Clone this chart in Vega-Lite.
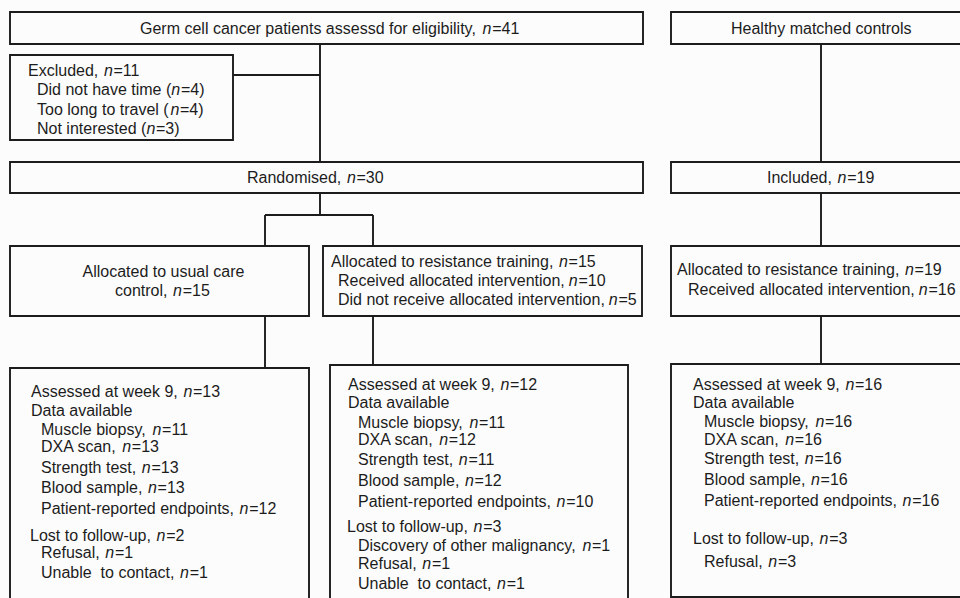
{
  "$schema": "https://vega.github.io/schema/vega-lite/v6.json",
  "width": 960,
  "height": 598,
  "autosize": "none",
  "padding": 0,
  "background": "#fcfcfc",
  "config": {"view": {"stroke": null}},
  "datasets": {
    "boxes": [
      {"x0": 10, "x1": 643, "y0": 12, "y1": 44},
      {"x0": 671, "x1": 963, "y0": 12, "y1": 44},
      {"x0": 10, "x1": 233, "y0": 55, "y1": 140},
      {"x0": 10, "x1": 643, "y0": 162, "y1": 193},
      {"x0": 671, "x1": 963, "y0": 162, "y1": 193},
      {"x0": 10, "x1": 309, "y0": 246, "y1": 316},
      {"x0": 323, "x1": 642, "y0": 246, "y1": 316},
      {"x0": 671, "x1": 963, "y0": 246, "y1": 316},
      {"x0": 10, "x1": 309, "y0": 368, "y1": 603},
      {"x0": 330, "x1": 628, "y0": 365, "y1": 603},
      {"x0": 671, "x1": 963, "y0": 364, "y1": 597}
    ],
    "links": [
      {"x0": 320, "x1": 320, "y0": 44, "y1": 162},
      {"x0": 233, "x1": 320, "y0": 75, "y1": 75},
      {"x0": 821, "x1": 821, "y0": 44, "y1": 162},
      {"x0": 821, "x1": 821, "y0": 193, "y1": 246},
      {"x0": 320, "x1": 320, "y0": 193, "y1": 215},
      {"x0": 265, "x1": 373, "y0": 215, "y1": 215},
      {"x0": 265, "x1": 265, "y0": 215, "y1": 246},
      {"x0": 373, "x1": 373, "y0": 215, "y1": 246},
      {"x0": 265, "x1": 265, "y0": 316, "y1": 368},
      {"x0": 373, "x1": 373, "y0": 316, "y1": 365},
      {"x0": 821, "x1": 821, "y0": 316, "y1": 364}
    ],
    "lines": [
      {"x": 140, "y": 33.5, "pre": "Germ cell cancer patients assessd for eligibility, ", "nx": 481.4, "suf": "=41"},
      {"x": 731, "y": 33.5, "pre": "Healthy matched controls", "nx": null, "suf": null},
      {"x": 28, "y": 75.5, "pre": "Excluded, ", "nx": 102.7, "suf": "=11"},
      {"x": 37, "y": 95, "pre": "Did not have time (", "nx": 170.1, "suf": "=4)"},
      {"x": 37, "y": 114.5, "pre": "Too long to travel (", "nx": 169.2, "suf": "=4)"},
      {"x": 37, "y": 134, "pre": "Not interested (", "nx": 145.2, "suf": "=3)"},
      {"x": 247, "y": 183, "pre": "Randomised, ", "nx": 345.7, "suf": "=30"},
      {"x": 767, "y": 183, "pre": "Included, ", "nx": 836.4, "suf": "=19"},
      {"x": 82.5, "y": 277, "pre": "Allocated to usual care", "nx": null, "suf": null},
      {"x": 115, "y": 296, "pre": "control, ", "nx": 171.9, "suf": "=15"},
      {"x": 331, "y": 266.5, "pre": "Allocated to resistance training, ", "nx": 557.8, "suf": "=15"},
      {"x": 338, "y": 285.5, "pre": "Received allocated intervention, ", "nx": 567.6, "suf": "=10"},
      {"x": 338, "y": 305, "pre": "Did not receive allocated intervention, ", "nx": 607.6, "suf": "=5"},
      {"x": 677, "y": 275, "pre": "Allocated to resistance training, ", "nx": 903.8, "suf": "=19"},
      {"x": 688, "y": 295, "pre": "Received allocated intervention, ", "nx": 917.6, "suf": "=16"},
      {"x": 31, "y": 397, "pre": "Assessed at week 9, ", "nx": 182.2, "suf": "=13"},
      {"x": 31, "y": 415.5, "pre": "Data available", "nx": null, "suf": null},
      {"x": 41, "y": 434.5, "pre": "Muscle biopsy, ", "nx": 151.3, "suf": "=11"},
      {"x": 41, "y": 452, "pre": "DXA scan, ", "nx": 121, "suf": "=13"},
      {"x": 41, "y": 472.5, "pre": "Strength test, ", "nx": 140.6, "suf": "=13"},
      {"x": 41, "y": 493, "pre": "Blood sample, ", "nx": 146.8, "suf": "=13"},
      {"x": 41, "y": 514, "pre": "Patient-reported endpoints, ", "nx": 238.4, "suf": "=12"},
      {"x": 30, "y": 540.5, "pre": "Lost to follow-up, ", "nx": 155.4, "suf": "=2"},
      {"x": 41, "y": 558, "pre": "Refusal, ", "nx": 104.1, "suf": "=1"},
      {"x": 41, "y": 577.5, "pre": "Unable\u00a0 to contact, ", "nx": 178.9, "suf": "=1"},
      {"x": 348, "y": 389.5, "pre": "Assessed at week 9, ", "nx": 499.2, "suf": "=12"},
      {"x": 348, "y": 408, "pre": "Data available", "nx": null, "suf": null},
      {"x": 358, "y": 428, "pre": "Muscle biopsy, ", "nx": 468.3, "suf": "=11"},
      {"x": 358, "y": 445, "pre": "DXA scan, ", "nx": 438, "suf": "=12"},
      {"x": 358, "y": 464.5, "pre": "Strength test, ", "nx": 457.6, "suf": "=11"},
      {"x": 358, "y": 485.5, "pre": "Blood sample, ", "nx": 463.8, "suf": "=12"},
      {"x": 358, "y": 506.5, "pre": "Patient-reported endpoints, ", "nx": 555.4, "suf": "=10"},
      {"x": 347, "y": 531.5, "pre": "Lost to follow-up, ", "nx": 472.4, "suf": "=3"},
      {"x": 358, "y": 550.5, "pre": "Discovery of other malignancy, ", "nx": 581.2, "suf": "=1"},
      {"x": 358, "y": 568.5, "pre": "Refusal, ", "nx": 421.1, "suf": "=1"},
      {"x": 358, "y": 588.5, "pre": "Unable\u00a0 to contact, ", "nx": 495.9, "suf": "=1"},
      {"x": 693, "y": 390, "pre": "Assessed at week 9, ", "nx": 844.2, "suf": "=16"},
      {"x": 693, "y": 408, "pre": "Data available", "nx": null, "suf": null},
      {"x": 704, "y": 426.5, "pre": "Muscle biopsy, ", "nx": 814.3, "suf": "=16"},
      {"x": 704, "y": 444.5, "pre": "DXA scan, ", "nx": 784, "suf": "=16"},
      {"x": 704, "y": 464, "pre": "Strength test, ", "nx": 803.6, "suf": "=16"},
      {"x": 704, "y": 485, "pre": "Blood sample, ", "nx": 809.8, "suf": "=16"},
      {"x": 704, "y": 505.5, "pre": "Patient-reported endpoints, ", "nx": 901.4, "suf": "=16"},
      {"x": 693, "y": 543.5, "pre": "Lost to follow-up, ", "nx": 818.4, "suf": "=3"},
      {"x": 704, "y": 566.5, "pre": "Refusal, ", "nx": 767.1, "suf": "=3"}
    ]
  },
  "layer": [
    {
      "data": {"name": "boxes"},
      "mark": {"type": "rect", "fillOpacity": 0, "stroke": "#1c1c1c", "strokeWidth": 1.9},
      "encoding": {
        "x": {"field": "x0", "type": "quantitative", "scale": {"domain": [0, 960], "nice": false, "zero": false}, "axis": null},
        "x2": {"field": "x1"},
        "y": {"field": "y0", "type": "quantitative", "scale": {"domain": [0, 598], "nice": false, "zero": false, "reverse": true}, "axis": null},
        "y2": {"field": "y1"}
      }
    },
    {
      "data": {"name": "links"},
      "mark": {"type": "rule", "stroke": "#1c1c1c", "strokeWidth": 1.9},
      "encoding": {
        "x": {"field": "x0", "type": "quantitative", "axis": null},
        "x2": {"field": "x1"},
        "y": {"field": "y0", "type": "quantitative", "axis": null},
        "y2": {"field": "y1"}
      }
    },
    {
      "data": {"name": "lines"},
      "mark": {"type": "text", "align": "left", "baseline": "alphabetic", "font": "Liberation Sans", "fontSize": 16, "color": "#1c1c1c"},
      "encoding": {
        "x": {"field": "x", "type": "quantitative", "axis": null},
        "y": {"field": "y", "type": "quantitative", "axis": null},
        "text": {"field": "pre"}
      }
    },
    {
      "data": {"name": "lines"},
      "transform": [{"filter": "datum.nx != null"}],
      "mark": {"type": "text", "align": "left", "baseline": "alphabetic", "font": "Liberation Sans", "fontSize": 16, "fontStyle": "italic", "dx": 1.2, "color": "#1c1c1c"},
      "encoding": {
        "x": {"field": "nx", "type": "quantitative", "axis": null},
        "y": {"field": "y", "type": "quantitative", "axis": null},
        "text": {"value": "n"}
      }
    },
    {
      "data": {"name": "lines"},
      "transform": [{"filter": "datum.nx != null"}],
      "mark": {"type": "text", "align": "left", "baseline": "alphabetic", "font": "Liberation Sans", "fontSize": 16, "dx": 10.8, "color": "#1c1c1c"},
      "encoding": {
        "x": {"field": "nx", "type": "quantitative", "axis": null},
        "y": {"field": "y", "type": "quantitative", "axis": null},
        "text": {"field": "suf"}
      }
    }
  ]
}
